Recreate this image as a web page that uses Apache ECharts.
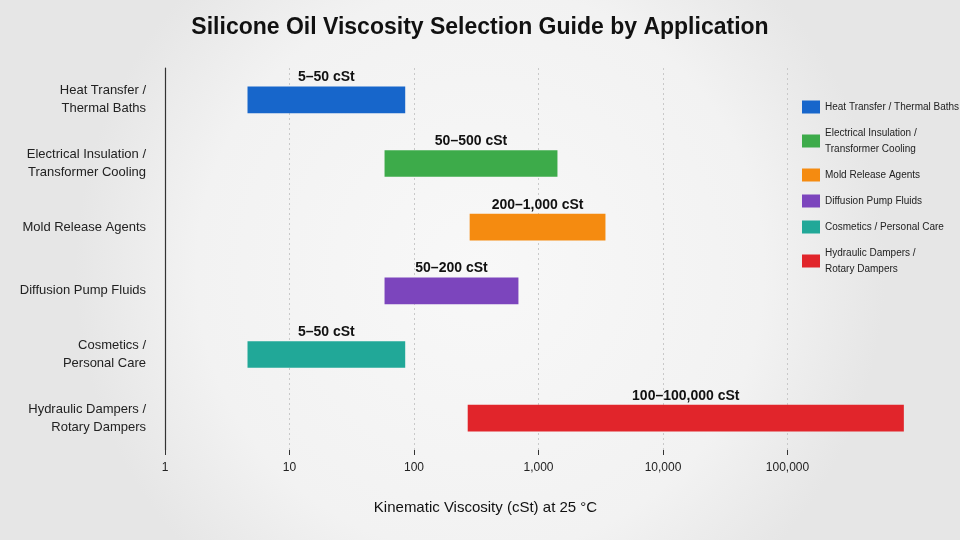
<!DOCTYPE html>
<html>
<head>
<meta charset="utf-8">
<script src="https://cdn.jsdelivr.net/npm/echarts@6/dist/echarts.min.js"></script>
<style>html,body{margin:0;padding:0;background:#f3f3f3;}#chart{width:960px;height:540px;}</style>
</head>
<body>
<div id="chart"></div>
<script>
// ---- data ----
const axisCategories = ['Heat Transfer /\nThermal Baths', 'Electrical Insulation /\nTransformer Cooling', 'Mold Release Agents', 'Diffusion Pump Fluids', 'Cosmetics /\nPersonal Care', 'Hydraulic Dampers /\nRotary Dampers'];
const legendNames = ['Heat Transfer / Thermal Baths', 'Electrical Insulation / Transformer Cooling', 'Mold Release Agents', 'Diffusion Pump Fluids', 'Cosmetics / Personal Care', 'Hydraulic Dampers / Rotary Dampers'];
const legendDisplay = ['Heat Transfer / Thermal Baths', 'Electrical Insulation /\nTransformer Cooling', 'Mold Release Agents', 'Diffusion Pump Fluids', 'Cosmetics / Personal Care', 'Hydraulic Dampers /\nRotary Dampers'];
const lowValues = [4.6, 58, 280, 58, 4.6, 270];
const highValues = [85, 1420, 3450, 690, 85, 860000];
const rangeLabels = ['5–50 cSt', '50–500 cSt', '200–1,000 cSt', '50–200 cSt', '5–50 cSt', '100–100,000 cSt'];
const colors = ['#1766cb', '#3dab4a', '#f58b10', '#7c45bd', '#21a898', '#e1252b'];
const xTickValues = [1, 10, 100, 1000, 10000, 100000];

const FONT = '"Liberation Sans", Arial, sans-serif';

const chart = echarts.init(document.getElementById('chart'), null, {renderer: 'canvas'});

function renderRange(params, api) {
  const y = api.value(2);
  const s = api.coord([api.value(0), y]);
  const e = api.coord([api.value(1), y]);
  const band = Math.abs(api.coord([1, 1])[1] - api.coord([1, 0])[1]);
  const h = band * 0.42;
  const top = s[1] - h / 2;
  return {
    type: 'group',
    children: [
      {type: 'rect', shape: {x: s[0], y: top, width: e[0] - s[0], height: h}, style: {fill: api.visual('color')}},
      {type: 'text', style: {text: rangeLabels[params.seriesIndex], x: (s[0] + e[0]) / 2, y: top - 2,
        align: 'center', verticalAlign: 'bottom', fontSize: 14, fontWeight: 'bold', fontFamily: FONT, fill: '#111'}}
    ]
  };
}

const series = legendNames.map((name, i) => ({
  name: name,
  type: 'custom',
  renderItem: renderRange,
  itemStyle: {color: colors[i]},
  encode: {x: [0, 1], y: 2},
  data: [[lowValues[i], highValues[i], i]]
}));

const GRID_C = '#c9c9c9';

chart.setOption({
  backgroundColor: {
    type: 'radial', x: 0.5, y: 0.5, r: 0.75,
    colorStops: [{offset: 0, color: '#f8f8f8'}, {offset: 0.7, color: '#f2f2f2'}, {offset: 1, color: '#e6e6e6'}]
  },
  animation: false,
  title: {
    text: 'Silicone Oil Viscosity Selection Guide by Application',
    left: 'center', top: 11,
    textStyle: {fontFamily: FONT, fontSize: 23, fontWeight: 'bold', color: '#111'}
  },
  legend: {
    orient: 'vertical', left: 797, top: 94, itemGap: 10,
    icon: 'rect', itemWidth: 18, itemHeight: 13,
    data: legendNames,
    formatter: name => legendDisplay[legendNames.indexOf(name)],
    textStyle: {fontFamily: FONT, fontSize: 10, lineHeight: 16, color: '#222'}
  },
  grid: {left: 165, right: 48, top: 68, bottom: 90},
  xAxis: {
    type: 'log', logBase: 10, min: 1, max: 1000000,
    name: 'Kinematic Viscosity (cSt) at 25 °C', nameLocation: 'middle', nameGap: 50,
    nameTextStyle: {fontFamily: FONT, fontSize: 15, color: '#111', padding: [0, 106, 0, 0]},
    axisLine: {lineStyle: {color: '#333', width: 1.2}},
    axisTick: {show: true, length: 5, lineStyle: {color: '#333'}},
    axisLabel: {
      fontFamily: FONT, fontSize: 12, color: '#222', margin: 12, showMaxLabel: false,
      formatter: v => xTickValues.indexOf(v) >= 0 ? v.toLocaleString('en-US') : ''
    },
    splitLine: {show: true, lineStyle: {
      color: ['rgba(0,0,0,0)', GRID_C, GRID_C, GRID_C, GRID_C, GRID_C, 'rgba(0,0,0,0)'],
      type: [2, 3], width: 1}}
  },
  yAxis: {
    type: 'category', data: axisCategories, inverse: true,
    axisLine: {lineStyle: {color: '#333', width: 1.2}},
    axisTick: {show: false},
    axisLabel: {fontFamily: FONT, fontSize: 13, lineHeight: 18, color: '#222', margin: 19, align: 'right'},
    splitLine: {show: false}
  },
  series: series
});
</script>
</body>
</html>
